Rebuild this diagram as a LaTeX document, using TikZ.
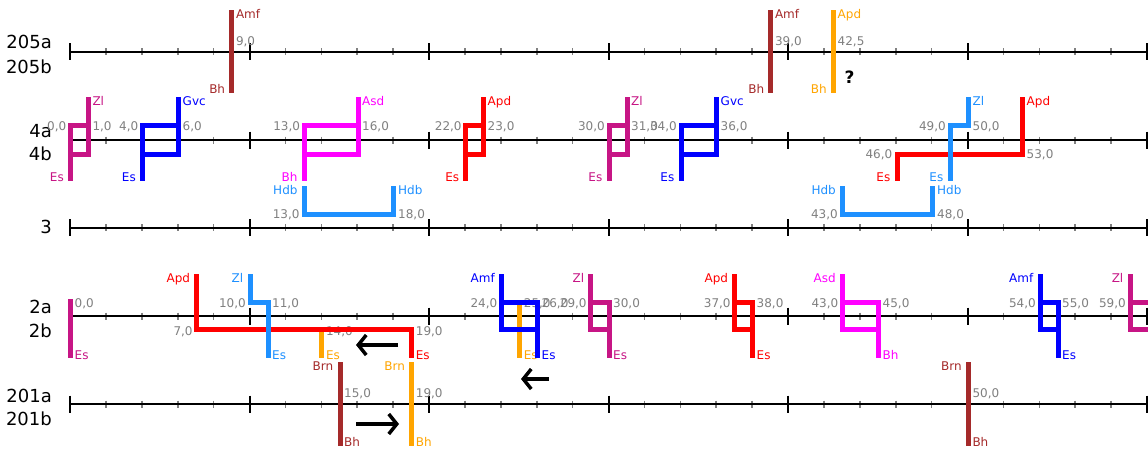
\documentclass[tikz,border=0pt]{standalone}
\usepackage{fontspec}
\setmainfont{DejaVu Sans}
\usetikzlibrary{arrows.meta}

\definecolor{cBrown}{HTML}{A52A2A}
\definecolor{cOrange}{HTML}{FFA500}
\definecolor{cMvr}{HTML}{C71585}
\definecolor{cBlue}{HTML}{0000FF}
\definecolor{cMag}{HTML}{FF00FF}
\definecolor{cRed}{HTML}{FF0000}
\definecolor{cDodger}{HTML}{1E90FF}
\definecolor{cGray}{HTML}{808080}

\tikzset{
  trk/.style={line width=5pt, line join=miter},
  tag/.style={inner sep=0pt, font=\fontsize{12}{12}\selectfont},
  num/.style={inner sep=0pt, text=cGray, font=\fontsize{12}{12}\selectfont},
  rowname/.style={inner sep=0pt, anchor=base east, font=\fontsize{18}{18}\selectfont},
  axisline/.style={line width=2pt, black},
  minortick/.style={line width=1.6pt, cGray},
  majortick/.style={line width=2pt, black},
  fatarrow/.style={line width=3.5pt, -{Straight Barb[length=8pt,width=20pt]}},
}

% single bar on the upper track pair: id, colour, x, upper tag, lower tag, value
\newcommand{\hibar}[6]{%
  \draw[trk,draw=#2] (#3,10) -- (#3,93);
  \node[tag,text=#2,anchor=base west] (#1t) at (#3+4,18) {#4};
  \node[tag,text=#2,anchor=base east] (#1b) at (#3-6.5,93.5) {#5};
  \node[num,anchor=base west] (#1v) at (#3+4,45.5) {#6};
}
% single bar on the lower track pair
\newcommand{\lobar}[6]{%
  \draw[trk,draw=#2] (#3,362) -- (#3,446);
  \node[tag,text=#2,anchor=base east] (#1t) at (#3-6.5,370.5) {#4};
  \node[tag,text=#2,anchor=base west] (#1b) at (#3+4,446) {#5};
  \node[num,anchor=base west] (#1v) at (#3+4,397.5) {#6};
}
% crossover loop on tracks 4a/4b: id, colour, L, R, upper tag, lower tag, left value, right value
\newcommand{\loopup}[8]{%
  \draw[trk,draw=#2] (#4,97) -- (#4,154) -- (#3,154) (#4,125.5) -- (#3,125.5) -- (#3,181);
  \node[tag,text=#2,anchor=base west] (#1t) at (#4+4,105) {#5};
  \node[tag,text=#2,anchor=base east] (#1b) at (#3-6.5,181.5) {#6};
  \node[num,anchor=base east] (#1l) at (#3-4,130) {#7};
  \node[num,anchor=base west] (#1r) at (#4+4,130) {#8};
}
% crossover loop on tracks 2a/2b
\newcommand{\loopdown}[8]{%
  \draw[trk,draw=#2] (#3,274) -- (#3,329) -- (#4,329) (#3,302) -- (#4,302) -- (#4,358);
  \node[tag,text=#2,anchor=base east] (#1t) at (#3-6.5,282.5) {#5};
  \node[tag,text=#2,anchor=base west] (#1b) at (#4+4,359) {#6};
  \node[num,anchor=base east] (#1l) at (#3-4,307) {#7};
  \node[num,anchor=base west] (#1r) at (#4+4,307) {#8};
}
% Hdb bracket on track 3: id, L, R, left value, right value
\newcommand{\hdbracket}[5]{%
  \draw[trk,draw=cDodger] (#2,186) -- (#2,214) -- (#3,214) -- (#3,186);
  \node[tag,text=cDodger,anchor=base east] (#1a) at (#2-6.5,194) {Hdb};
  \node[tag,text=cDodger,anchor=base west] (#1b) at (#3+4.5,194) {Hdb};
  \node[num,anchor=base east] (#1l) at (#2-4.5,218) {#4};
  \node[num,anchor=base west] (#1r) at (#3+4.5,218) {#5};
}

\begin{document}
\begin{tikzpicture}[x=1pt,y=-1pt]
\useasboundingbox (0,0) rectangle (1148,450);
\fill[white] (0,0) rectangle (1148,450);
\clip (0,0) rectangle (1148,450);

% track axes with ticks
\foreach \y in {51.5,140,227.5,316,404} {
  \foreach \i in {1,...,30}
    \draw[minortick] ({70+35.9*\i},\y-3.5) -- ({70+35.9*\i},\y+3.5);
  \draw[axisline] (70,\y) -- (1150,\y);
  \foreach \i in {0,5,...,30}
    \draw[majortick] ({70+35.9*\i},\y-8.5) -- ({70+35.9*\i},\y+8.5);
}

% track names
\node[rowname] (r205a) at (52,48) {205a};
\node[rowname] (r205b) at (52,73) {205b};
\node[rowname] (r4a) at (52,137) {4a};
\node[rowname] (r4b) at (52,160) {4b};
\node[rowname] (r3) at (52,233) {3};
\node[rowname] (r2a) at (52,313) {2a};
\node[rowname] (r2b) at (52,337) {2b};
\node[rowname] (r201a) at (52,402) {201a};
\node[rowname] (r201b) at (52,425) {201b};

% tracks 205a/205b
\hibar{amA}{cBrown}{231.8}{Amf}{Bh}{9,0}
\hibar{amB}{cBrown}{770.8}{Amf}{Bh}{39,0}
\hibar{apA}{cOrange}{833.5}{Apd}{Bh}{42,5}
\node[inner sep=0pt, anchor=base west, font=\bfseries\fontsize{17}{17}\selectfont] (qm) at (844.5,83) {?};

% tracks 4a/4b
\loopup{zlA}{cMvr}{70.5}{88.3}{Zl}{Es}{0,0}{1,0}
\loopup{gvA}{cBlue}{142.5}{178.5}{Gvc}{Es}{4,0}{6,0}
\loopup{asA}{cMag}{304.2}{358}{Asd}{Bh}{13,0}{16,0}
\loopup{apB}{cRed}{465.8}{483.5}{Apd}{Es}{22,0}{23,0}
\loopup{zlB}{cMvr}{609}{627}{Zl}{Es}{30,0}{31,0}
\loopup{gvB}{cBlue}{681}{716.5}{Gvc}{Es}{34,0}{36,0}

\draw[trk,draw=cRed] (1022.5,97) -- (1022.5,154) -- (897,154) -- (897,181);
\node[tag,text=cRed,anchor=base west] (apCt) at (1026.5,105) {Apd};
\node[tag,text=cRed,anchor=base east] (apCb) at (890.5,181.5) {Es};
\node[num,anchor=base east] (apCl) at (892.5,158.5) {46,0};
\node[num,anchor=base west] (apCr) at (1026.5,158.5) {53,0};

\draw[trk,draw=cDodger] (968.5,97) -- (968.5,125.5) -- (950,125.5) -- (950,181);
\node[tag,text=cDodger,anchor=base west] (zlCt) at (972.5,105) {Zl};
\node[tag,text=cDodger,anchor=base east] (zlCb) at (943.5,181.5) {Es};
\node[num,anchor=base east] (zlCl) at (946,130) {49,0};
\node[num,anchor=base west] (zlCr) at (972.5,130) {50,0};

% track 3
\hdbracket{hdA}{304.2}{393.5}{13,0}{18,0}
\hdbracket{hdB}{842.5}{932.5}{43,0}{48,0}

% tracks 2a/2b
\draw[trk,draw=cMvr] (70.5,299) -- (70.5,358);
\node[num,anchor=base west] (zlDv) at (74.5,307) {0,0};
\node[tag,text=cMvr,anchor=base west] (zlDb) at (74.5,359) {Es};

\draw[trk,draw=cOrange] (321.8,329) -- (321.8,358);
\node[num,anchor=base west] (orAv) at (325.8,335) {14,0};
\node[tag,text=cOrange,anchor=base west] (orAb) at (325.8,359) {Es};

\draw[trk,draw=cOrange] (519.7,302) -- (519.7,358);
\node[num,anchor=base west] (orBv) at (523.7,307) {25,0};
\node[tag,text=cOrange,anchor=base west] (orBb) at (523.7,359) {Es};

\draw[trk,draw=cRed] (196.8,274) -- (196.8,329) -- (411.7,329) -- (411.7,358);
\node[tag,text=cRed,anchor=base east] (apDt) at (190.3,282.5) {Apd};
\node[tag,text=cRed,anchor=base west] (apDb) at (415.7,359) {Es};
\node[num,anchor=base east] (apDl) at (192.8,335) {7,0};
\node[num,anchor=base west] (apDr) at (415.7,335) {19,0};

\draw[trk,draw=cDodger] (250,274) -- (250,302) -- (268,302) -- (268,358);
\node[tag,text=cDodger,anchor=base east] (zlEt) at (243.5,282.5) {Zl};
\node[tag,text=cDodger,anchor=base west] (zlEb) at (272,359) {Es};
\node[num,anchor=base east] (zlEl) at (246,307) {10,0};
\node[num,anchor=base west] (zlEr) at (272,307) {11,0};

\loopdown{amC}{cBlue}{501.5}{537.5}{Amf}{Es}{24,0}{26,0}
\loopdown{zlF}{cMvr}{590.8}{609}{Zl}{Es}{29,0}{30,0}
\loopdown{apE}{cRed}{734.8}{752.5}{Apd}{Es}{37,0}{38,0}
\loopdown{asB}{cMag}{842.5}{878.5}{Asd}{Bh}{43,0}{45,0}
\loopdown{amD}{cBlue}{1040}{1058}{Amf}{Es}{54,0}{55,0}

\draw[trk,draw=cMvr] (1130,274) -- (1130,329) -- (1160,329) (1130,302) -- (1160,302);
\node[tag,text=cMvr,anchor=base east] (zlGt) at (1123.5,282.5) {Zl};
\node[num,anchor=base east] (zlGl) at (1126,307) {59,0};

% tracks 201a/201b
\lobar{brA}{cBrown}{340}{Brn}{Bh}{15,0}
\lobar{brB}{cOrange}{411.7}{Brn}{Bh}{19,0}
\lobar{brC}{cBrown}{968.3}{Brn}{Bh}{50,0}

% movement arrows
\coordinate (m1s) at (398,345);
\coordinate (m1e) at (356,345);
\coordinate (m2s) at (549,379);
\coordinate (m2e) at (521,379);
\coordinate (m3s) at (356,424);
\coordinate (m3e) at (399,424);
\draw[fatarrow] (m1s) -- (m1e);
\draw[fatarrow] (m2s) -- (m2e);
\draw[fatarrow] (m3s) -- (m3e);
\end{tikzpicture}
\end{document}
